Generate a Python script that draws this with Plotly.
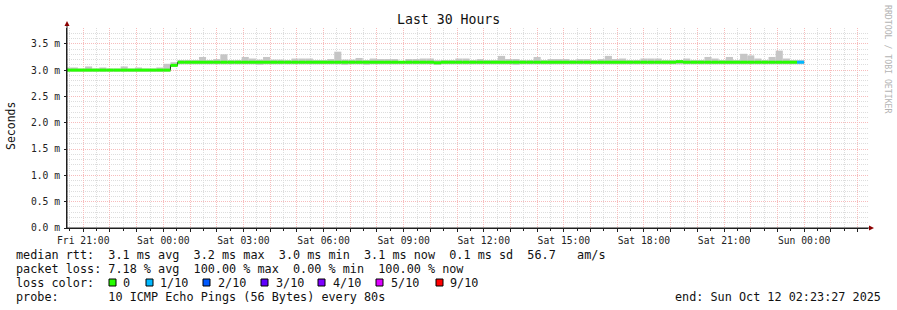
import plotly.graph_objects as go
import pandas as pd

# ---------------- data ----------------
FIRST_BIN = "2025-10-10 20:16:00"
BIN_MINUTES = 16
RANGE_START = "2025-10-10 20:23:27"
RANGE_END = "2025-10-12 02:23:27"

median_ms = [
    3.00, 3.00, 3.00, 3.00, 3.00, 3.00, 3.00, 3.00, 3.00, 3.00,
    3.00, 3.00, 3.00, 3.00, 3.00, 3.09, 3.15, 3.15, 3.15, 3.15,
    3.15, 3.15, 3.15, 3.15, 3.15, 3.15, 3.15, 3.15, 3.15, 3.15,
    3.15, 3.15, 3.15, 3.15, 3.15, 3.15, 3.15, 3.15, 3.15, 3.15,
    3.15, 3.15, 3.15, 3.15, 3.15, 3.15, 3.15, 3.15, 3.15, 3.15,
    3.15, 3.15, 3.14, 3.15, 3.15, 3.15, 3.15, 3.15, 3.15, 3.15,
    3.15, 3.15, 3.15, 3.15, 3.15, 3.15, 3.15, 3.15, 3.15, 3.15,
    3.15, 3.15, 3.15, 3.15, 3.15, 3.15, 3.15, 3.15, 3.15, 3.15,
    3.15, 3.15, 3.15, 3.15, 3.15, 3.15, 3.16, 3.15, 3.15, 3.15,
    3.15, 3.15, 3.15, 3.15, 3.15, 3.15, 3.15, 3.15, 3.15, 3.15,
    3.15, 3.15, 3.15, 3.15,
]

smoke_lo_ms = [
    2.97, 2.97, 2.97, 2.97, 2.97, 2.97, 2.97, 2.97, 2.97, 2.97,
    2.97, 2.97, 2.97, 2.97, 2.97, 3.06, 3.11, 3.11, 3.11, 3.11,
    3.11, 3.11, 3.11, 3.11, 3.11, 3.11, 3.11, 3.10, 3.11, 3.11,
    3.11, 3.11, 3.11, 3.11, 3.11, 3.11, 3.11, 3.11, 3.11, 3.10,
    3.11, 3.11, 3.10, 3.11, 3.11, 3.11, 3.11, 3.11, 3.11, 3.11,
    3.11, 3.11, 3.10, 3.11, 3.11, 3.11, 3.11, 3.11, 3.11, 3.11,
    3.11, 3.11, 3.11, 3.10, 3.11, 3.11, 3.11, 3.11, 3.11, 3.11,
    3.11, 3.11, 3.11, 3.11, 3.11, 3.11, 3.11, 3.11, 3.11, 3.11,
    3.11, 3.11, 3.11, 3.11, 3.11, 3.11, 3.11, 3.11, 3.11, 3.11,
    3.11, 3.11, 3.11, 3.11, 3.11, 3.11, 3.11, 3.11, 3.11, 3.11,
    3.11, 3.11, 3.11, 3.11,
]

smoke_hi_ms = [
    3.05, 3.05, 3.03, 3.07, 3.03, 3.05, 3.03, 3.03, 3.07, 3.03,
    3.05, 3.03, 3.03, 3.05, 3.12, 3.15, 3.19, 3.19, 3.19, 3.25,
    3.19, 3.21, 3.30, 3.19, 3.19, 3.25, 3.22, 3.20, 3.25, 3.20,
    3.20, 3.19, 3.22, 3.22, 3.22, 3.19, 3.19, 3.21, 3.35, 3.20,
    3.20, 3.23, 3.19, 3.22, 3.21, 3.21, 3.21, 3.17, 3.21, 3.21,
    3.22, 3.22, 3.19, 3.19, 3.19, 3.22, 3.22, 3.19, 3.21, 3.19,
    3.19, 3.27, 3.21, 3.21, 3.19, 3.19, 3.25, 3.19, 3.21, 3.21,
    3.21, 3.19, 3.21, 3.21, 3.19, 3.21, 3.27, 3.21, 3.22, 3.19,
    3.19, 3.22, 3.22, 3.22, 3.19, 3.19, 3.19, 3.22, 3.19, 3.19,
    3.25, 3.22, 3.19, 3.25, 3.19, 3.31, 3.28, 3.22, 3.19, 3.25,
    3.37, 3.22, 3.19, 3.19,
]

lost_pings = [
    0, 0, 0, 0, 0, 0, 0, 0, 0, 0,
    0, 0, 0, 0, 0, 0, 0, 0, 0, 0,
    0, 0, 0, 0, 0, 0, 0, 0, 0, 0,
    0, 0, 0, 0, 0, 0, 0, 0, 0, 0,
    0, 0, 0, 0, 0, 0, 0, 0, 0, 0,
    0, 0, 0, 0, 0, 0, 0, 0, 0, 0,
    0, 0, 0, 0, 0, 0, 0, 0, 0, 0,
    0, 0, 0, 0, 0, 0, 0, 0, 0, 0,
    0, 0, 0, 0, 0, 0, 0, 0, 0, 0,
    0, 0, 0, 0, 0, 0, 0, 0, 0, 0,
    0, 0, 0, 1,
]

loss_levels = [0, 1, 2, 3, 4, 5, 9]
loss_labels = ["0", "1/10", "2/10", "3/10", "4/10", "5/10", "9/10"]
loss_colors = ["#26ff00", "#00b8ff", "#0059ff", "#5e00ff", "#7e00ff", "#dd00ff", "#ff0000"]

title_text = "Last 30 Hours"
y_title = "Seconds"
stats_rtt = "median rtt:  3.1 ms avg  3.2 ms max  3.0 ms min  3.1 ms now  0.1 ms sd  56.7   am/s"
stats_loss = "packet loss: 7.18 % avg  100.00 % max  0.00 % min  100.00 % now"
loss_color_label = "loss color:"
probe_text = "probe:       10 ICMP Echo Pings (56 Bytes) every 80s"
end_text = "end: Sun Oct 12 02:23:27 2025"
watermark = "RRDTOOL / TOBI OETIKER"

# ---------------- geometry / style ----------------
W, H = 897, 310
ML, MR, MT, MB = 67, 29, 28, 82
PW, PH = W - ML - MR, H - MT - MB
MONO = "DejaVu Sans Mono"
MAJOR = "#f7bcbc"
MINOR = "#dddddd"
AXIS = "#202020"
ARROW = "#8b0000"
SMOKE = "#c6c6c6"
LEG = 11.8


def px(x):
    return (x - ML) / PW


def py(y):
    return (MT + PH - y) / PH


def nb(s):
    return s.replace(" ", "\u00a0")


starts = pd.date_range(FIRST_BIN, periods=len(median_ms), freq=f"{BIN_MINUTES}min")
ends = starts + pd.Timedelta(minutes=BIN_MINUTES)
centers = starts + pd.Timedelta(minutes=BIN_MINUTES / 2)
bin_ms = BIN_MINUTES * 60 * 1000

fig = go.Figure()

# smoke
fig.add_trace(go.Bar(
    x=centers, y=[h - l for h, l in zip(smoke_hi_ms, smoke_lo_ms)], base=smoke_lo_ms,
    width=bin_ms, marker=dict(color=SMOKE, line=dict(width=0)),
    showlegend=False, hoverinfo="skip",
))

# dark median line (steps)
fig.add_trace(go.Scatter(
    x=list(starts) + [ends[-1]], y=median_ms + [median_ms[-1]],
    mode="lines", line=dict(color=AXIS, width=1, shape="hv"),
    showlegend=False, hoverinfo="skip",
))

# loss-coloured median band
for lvl, col in zip(loss_levels, loss_colors):
    xs, ys = [], []
    for s, e, m, lp in zip(starts, ends, median_ms, lost_pings):
        if lp == lvl:
            xs += [s, e, None]
            ys += [m, m, None]
    if xs:
        fig.add_trace(go.Scatter(
            x=xs, y=ys, mode="lines", line=dict(color=col, width=3),
            showlegend=False, hoverinfo="skip",
        ))

hours = pd.date_range("2025-10-10 21:00", "2025-10-12 02:00", freq="1h")
hour_text = [h.strftime("%a %H:%M") if h.hour % 3 == 0 else "" for h in hours]

fig.update_layout(
    width=W, height=H, autosize=False,
    margin=dict(l=ML, r=MR, t=MT, b=MB, pad=0),
    paper_bgcolor="white", plot_bgcolor="white",
    barmode="overlay", showlegend=False,
    font=dict(family=MONO, color="#222222"),
    xaxis=dict(
        type="date", range=[RANGE_START, RANGE_END],
        tickmode="array", tickvals=list(hours), ticktext=hour_text,
        showgrid=True, gridcolor=MAJOR, griddash="1px,1px", gridwidth=1,
        zeroline=False, showline=True, linecolor=AXIS, linewidth=1,
        ticks="outside", ticklen=3, tickcolor=AXIS,
        tickfont=dict(family=MONO, size=9.7, color="#222222"),
        minor=dict(tick0="2025-10-10 21:00", dtick=1800000, showgrid=True,
                   gridcolor=MINOR, griddash="1px,1px", ticks="outside",
                   ticklen=2, tickcolor=AXIS),
        fixedrange=True,
    ),
    yaxis=dict(
        range=[0, 3.8], tick0=0, dtick=0.5, tickformat=".1f", ticksuffix=" m",
        showgrid=True, gridcolor=MAJOR, griddash="1px,1px", gridwidth=1,
        zeroline=False, showline=True, linecolor=AXIS, linewidth=1,
        ticks="outside", ticklen=2, tickcolor=AXIS, ticklabelstandoff=2,
        tickfont=dict(family=MONO, size=9.7, color="#222222"),
        minor=dict(tick0=0, dtick=0.1, showgrid=True, gridcolor=MINOR,
                   griddash="1px,1px", ticks=""),
        fixedrange=True,
    ),
)

ann = []


def text(x, y, s, size, xanchor="left", angle=0, color="#111111"):
    ann.append(dict(
        x=px(x), y=py(y), xref="paper", yref="paper", text=nb(s), showarrow=False,
        xanchor=xanchor, yanchor="middle", textangle=angle,
        font=dict(family=MONO, size=size, color=color),
        borderpad=0, borderwidth=0,
    ))


text(448, 19.5, title_text, 13.2, xanchor="center")
text(11, 126, y_title, 11.5, xanchor="center", angle=-90)
text(16, 254.5, stats_rtt, LEG)
text(16, 268.5, stats_loss, LEG)
text(16, 282.5, loss_color_label, LEG)
text(16, 296.5, probe_text, LEG)
text(881, 296.5, end_text, LEG, xanchor="right")
text(888, 59, watermark, 8.2, xanchor="center", angle=90, color="#b4b4b4")

box_left = [109, 146, 203, 261, 318, 376, 436]
label_left = [123, 160, 218, 276, 333, 391, 450]
shapes = []
for bl, ll, lab, col in zip(box_left, label_left, loss_labels, loss_colors):
    shapes.append(dict(type="rect", xref="paper", yref="paper",
                       x0=px(bl), x1=px(bl + 7), y0=py(286), y1=py(279),
                       fillcolor=col, line=dict(color="#000000", width=1)))
    text(ll, 282.5, lab, LEG)

# axis extensions and arrows
shapes.append(dict(type="line", xref="paper", yref="paper",
                   x0=px(67), x1=px(67), y0=py(228), y1=py(24),
                   line=dict(color=AXIS, width=1)))
shapes.append(dict(type="line", xref="paper", yref="paper",
                   x0=px(67), x1=px(870), y0=py(228), y1=py(228),
                   line=dict(color=AXIS, width=1)))
shapes.append(dict(type="path", xref="paper", yref="paper",
                   path=f"M {px(64.5)},{py(26)} L {px(69.5)},{py(26)} L {px(67)},{py(21)} Z",
                   fillcolor=ARROW, line=dict(color=ARROW, width=0)))
shapes.append(dict(type="path", xref="paper", yref="paper",
                   path=f"M {px(869)},{py(225.5)} L {px(869)},{py(230.5)} L {px(874)},{py(228)} Z",
                   fillcolor=ARROW, line=dict(color=ARROW, width=0)))

fig.update_layout(annotations=ann, shapes=shapes)
fig.write_html("out.html")
